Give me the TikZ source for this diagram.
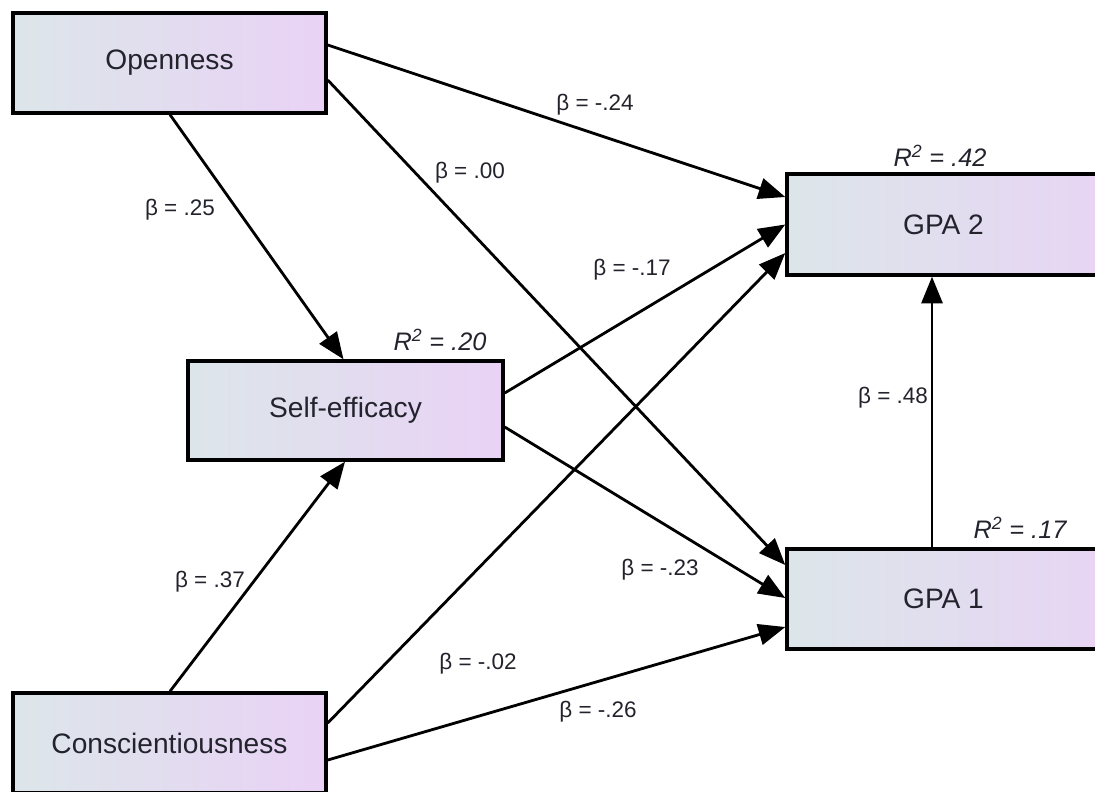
\documentclass[tikz,border=0pt]{standalone}
\usepackage{fontspec}
\setmainfont{Liberation Sans}
\usetikzlibrary{arrows.meta,calc}
\definecolor{boxL}{RGB}{220,230,234}
\definecolor{boxR}{RGB}{233,210,245}
\definecolor{txt}{RGB}{35,35,45}
\begin{document}
\begin{tikzpicture}[x=0.025cm,y=-0.025cm,
  var/.style={draw=black,line width=2.4pt,left color=boxL,right color=boxR,
    minimum width=7.825cm,minimum height=2.5cm,inner sep=0pt,
    font=\fontsize{20}{24}\selectfont,text=txt},
  path/.style={line width=2pt,-{Triangle[length=19pt,width=15pt]}},
  coef/.style={font=\fontsize{16}{19}\selectfont,text=txt,inner sep=1pt},
  rsq/.style={font=\fontsize{18}{21}\selectfont\itshape,text=txt,inner sep=1pt}]
\useasboundingbox (0,0) rectangle (1095,791);
\clip (0,0) rectangle (1095,791);
\node[var] (op) at (169.5,63) {Openness};
\node[var,minimum width=7.875cm,minimum height=2.475cm] (se) at (345.5,410.5) {Self-efficacy};
\node[var] (co) at (169.5,743) {Conscientiousness};
\node[var,minimum width=9cm,minimum height=2.525cm] (g2) at (967,224.5) {};
\node[var,minimum width=9cm] (g1) at (967,599) {};
\node[font=\fontsize{20}{24}\selectfont,text=txt] (g2t) at (943.5,224.5) {GPA 2};
\node[font=\fontsize{20}{24}\selectfont,text=txt] (g1t) at (943.5,599) {GPA 1};

\draw[path] ($(op.east)+(0,-18)$) -- ($(g2.west)+(0,-27.5)$);
\draw[path] ($(op.east)+(0,17)$) -- ($(g1.west)+(0,-34)$);
\draw[path] ($(op.south)+(0.5,0)$) -- ($(se.north)+(-2,0)$);
\draw[path] ($(se.east)+(0,-17.5)$) -- (g2.west);
\draw[path] ($(se.east)+(0,16.5)$) -- ($(g1.west)+(0,-1)$);
\draw[path] ($(co.north)+(0.5,0)$) -- ($(se.south)+(-0.5,0)$);
\draw[path] ($(co.east)+(0,-20)$) -- ($(g2.west)+(0,28.5)$);
\draw[path] ($(co.east)+(0,17)$) -- ($(g1.west)+(0,28)$);
\draw[path] ($(g1.north)+(-35,0)$) -- ($(g2.south)+(-35,0)$);

\node[coef] (l1) at (595,105) {β = -.24};
\node[coef] (l2) at (470,173) {β = .00};
\node[coef] (l3) at (180,210) {β = .25};
\node[coef] (l4) at (632,270) {β = -.17};
\node[coef] (l5) at (893,398) {β = .48};
\node[coef] (l6) at (210,582) {β = .37};
\node[coef] (l7) at (660,570) {β = -.23};
\node[coef] (l8) at (478,664) {β = -.02};
\node[coef] (l9) at (598,712) {β = -.26};
\node[rsq] (r1) at (440,340) {R\textsuperscript{2} = .20};
\node[rsq] (r2) at (940,156) {R\textsuperscript{2} = .42};
\node[rsq] (r3) at (1020,528) {R\textsuperscript{2} = .17};
\end{tikzpicture}
\end{document}
